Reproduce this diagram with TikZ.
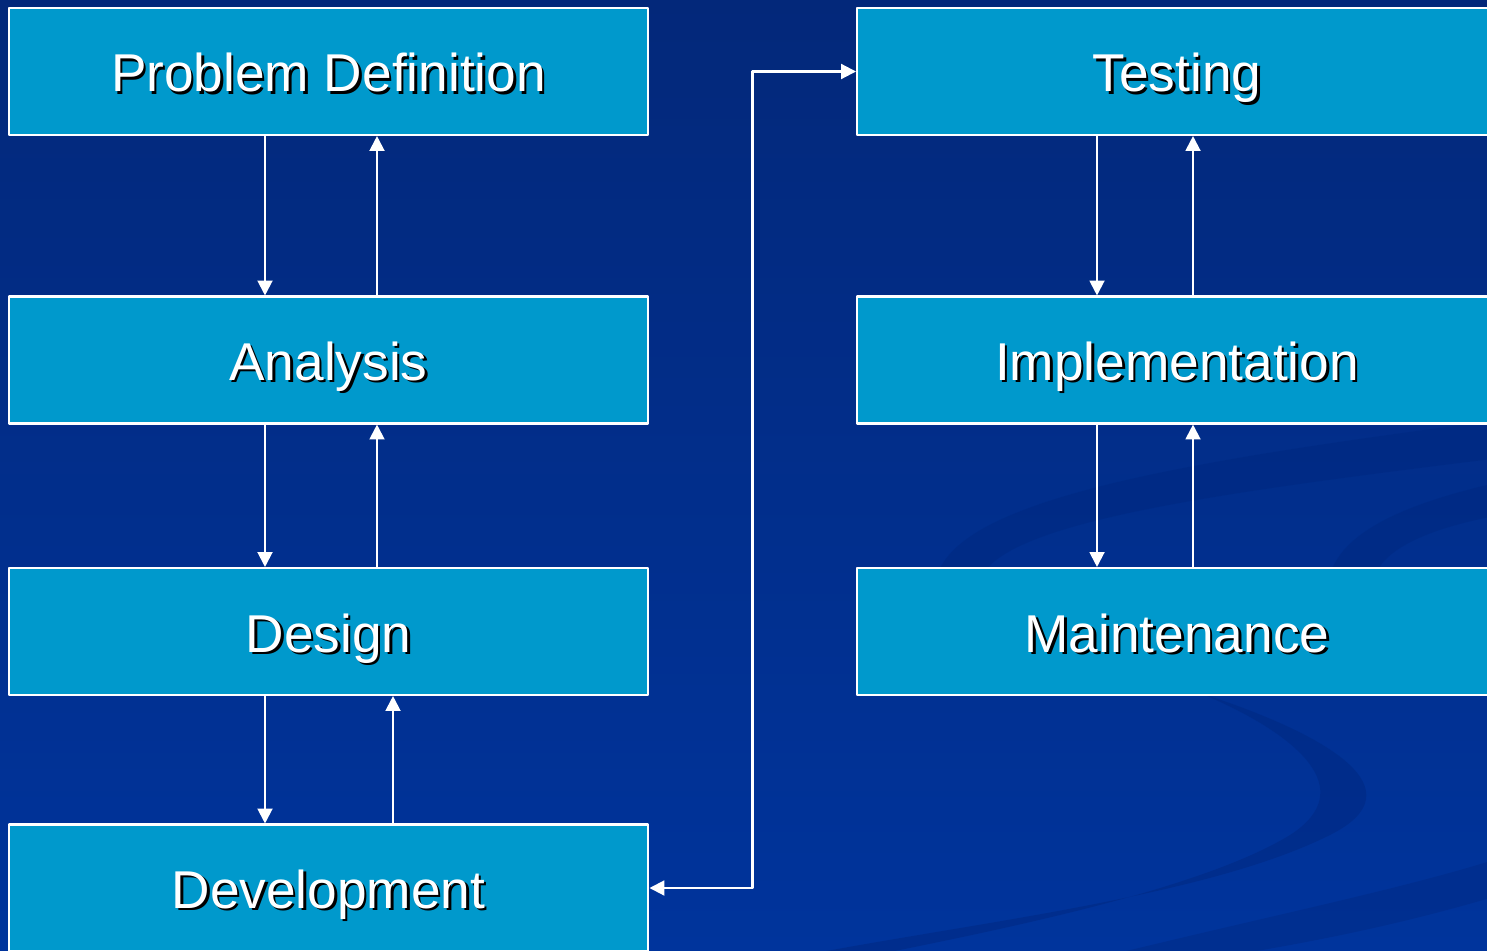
\documentclass[tikz,border=0pt]{standalone}
\usepackage{fontspec}
\setmainfont{Liberation Sans}
\usetikzlibrary{arrows.meta}
\definecolor{bgtop}{RGB}{3,40,122}
\definecolor{bgbot}{RGB}{0,52,156}
\definecolor{boxblue}{RGB}{0,153,204}
\definecolor{swirl}{RGB}{0,40,128}
\newcommand{\shadowtext}[1]{\makebox[0pt][l]{\hspace{1.4pt}\raisebox{-1.4pt}{\color{black}#1}}#1}
\tikzset{stage/.style={draw=white, line width=1.2pt, fill=boxblue, minimum width=12.8cm, minimum height=2.54cm, inner sep=0pt, text=white, font=\fontsize{30.3}{36}\selectfont, text height=0.82cm, text depth=0cm},
  flow/.style={draw=white, line width=1.2pt}}

\begin{document}
\begin{tikzpicture}[line join=round,>={Triangle[length=8.5pt,width=8.5pt]},x=0.02cm,y=-0.02cm]
      \useasboundingbox (0,0) rectangle (1487,950);
      \clip (0,0) rectangle (1487,950);
      \shade[top color=bgtop,bottom color=bgbot] (0,0) rectangle (1487,950);
      \fill[swirl,opacity=.5] (935,590) .. controls (935,505) and (1150,465) .. (1500,420) -- (1500,458) .. controls (1200,495) and (978,525) .. (978,590) -- cycle;
      \fill[swirl,opacity=.5] (1328,590) .. controls (1328,530) and (1420,500) .. (1500,482) -- (1500,515) .. controls (1430,528) and (1372,550) .. (1372,590) -- cycle;
      \fill[swirl,opacity=.5] (1200,693) .. controls (1330,735) and (1420,790) .. (1330,835) .. controls (1200,900) and (950,925) .. (780,960) -- (850,960) .. controls (1000,930) and (1200,890) .. (1290,835) .. controls (1360,790) and (1300,735) .. (1200,693) -- cycle;
      \fill[swirl,opacity=.4] (1090,960) .. controls (1250,920) and (1400,890) .. (1500,858) -- (1500,895) .. controls (1400,925) and (1300,945) .. (1200,960) -- cycle;
      \node[stage] (pd) at (328.5,71.5) {\shadowtext{Problem Definition}};
      \node[stage] (an) at (328.5,360) {\shadowtext{Analysis}};
      \node[stage] (de) at (328.5,631.5) {\shadowtext{Design}};
      \node[stage] (dv) at (328.5,888) {\shadowtext{Development}};
      \node[stage] (te) at (1177,71.5) {\shadowtext{Testing}};
      \node[stage] (im) at (1177,360) {\shadowtext{Implementation}};
      \node[stage] (ma) at (1177,631.5) {\shadowtext{Maintenance}};
      \foreach \a/\b/\dn/\up in {pd/an/265/377, an/de/265/377, de/dv/265/393, te/im/1097/1193, im/ma/1097/1193}
      {
      \draw[->,flow] (\a.south -| \dn,0) -- (\b.north -| \dn,0);
      \draw[->,flow] (\b.north -| \up,0) -- (\a.south -| \up,0);
      }
      \draw[<->,flow] (dv.east) -- ++(103,0) |- (te.west);
\end{tikzpicture}
\end{document}
